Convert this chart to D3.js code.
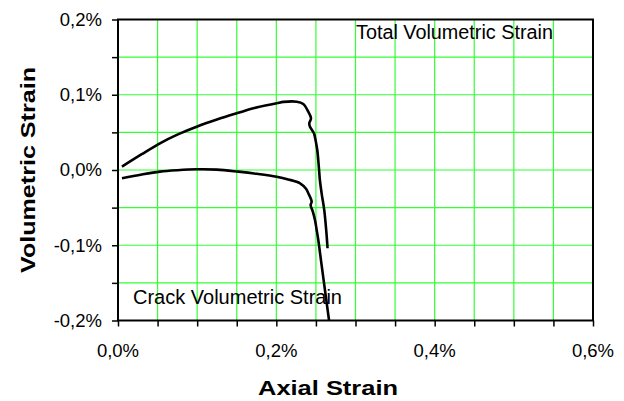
<!DOCTYPE html>
<html><head><meta charset="utf-8">
<script src="https://cdn.jsdelivr.net/npm/d3@7"></script>
<style>body{margin:0;background:#fff}svg{display:block}text{font-family:"Liberation Sans",Arial,sans-serif}</style>
</head><body>
<script>
// Axial strain (%) and volumetric strain (%)
const totalX = [0.005, 0.03, 0.053, 0.075, 0.0994, 0.125, 0.152, 0.1708, 0.2004, 0.209, 0.2257, 0.234, 0.2403, 0.2438, 0.2416, 0.2425, 0.2475, 0.2495, 0.2517, 0.254, 0.255, 0.2575, 0.2605, 0.263, 0.2647];
const totalY = [0.0045, 0.021, 0.0355, 0.047, 0.0575, 0.067, 0.076, 0.082, 0.0886, 0.0905, 0.0908, 0.0877, 0.0775, 0.0687, 0.062, 0.0576, 0.0487, 0.04, 0.0266, 0.0, -0.0133, -0.033, -0.053, -0.08, -0.104];
const crackX = [0.005, 0.03, 0.053, 0.075, 0.0994, 0.125, 0.152, 0.175, 0.2004, 0.215, 0.23, 0.2375, 0.2404, 0.2446, 0.2433, 0.246, 0.2488, 0.251, 0.253, 0.2564, 0.2602, 0.2634, 0.2666];
const crackY = [-0.011, -0.006, -0.0022, -0.0003, 0.0009, 0.0005, -0.0022, -0.005, -0.0089, -0.0125, -0.0177, -0.025, -0.031, -0.042, -0.0465, -0.055, -0.0664, -0.08, -0.093, -0.12, -0.15, -0.175, -0.2];
const xTicks = [0, 0.05, 0.1, 0.15, 0.2, 0.25, 0.3, 0.35, 0.4, 0.45, 0.5, 0.55, 0.6];
const yTicks = [-0.2, -0.15, -0.1, -0.05, 0, 0.05, 0.1, 0.15, 0.2];
const xLabels = ["0,0%", "0,2%", "0,4%", "0,6%"];
const xLabelVals = [0, 0.2, 0.4, 0.6];
const yLabels = ["-0,2%", "-0,1%", "0,0%", "0,1%", "0,2%"];
const yLabelVals = [-0.2, -0.1, 0, 0.1, 0.2];
const seriesNames = ["Total Volumetric Strain", "Crack Volumetric Strain"];

const W = 624, H = 401;
const L = 118, R = 593, T = 19.5, B = 320.5;
const svg = d3.select("body").append("svg").attr("width", W).attr("height", H);
const x = d3.scaleLinear().domain([0, 0.6]).range([L, R]);
const y = d3.scaleLinear().domain([-0.2, 0.2]).range([B, T]);

// grid
svg.append("g").selectAll("line.vx").data(xTicks.slice(1, -1)).join("line")
  .attr("x1", d => x(d)).attr("x2", d => x(d)).attr("y1", T).attr("y2", B)
  .attr("stroke", "#33ff33").attr("stroke-width", 1.2);
svg.append("g").selectAll("line.hy").data(yTicks.slice(1, -1)).join("line")
  .attr("y1", d => y(d)).attr("y2", d => y(d)).attr("x1", L).attr("x2", R)
  .attr("stroke", "#33ff33").attr("stroke-width", 1.2);

// axes ticks
const xAxis = d3.axisBottom(x).tickValues(xTicks).tickSize(6).tickFormat("");
const yAxis = d3.axisLeft(y).tickValues(yTicks).tickSize(6).tickFormat("");
const gx = svg.append("g").attr("transform", `translate(0,${B})`).call(xAxis);
const gy = svg.append("g").attr("transform", `translate(${L},0)`).call(yAxis);
[gx, gy].forEach(g => { g.select(".domain").remove(); g.selectAll("line").attr("stroke", "#000").attr("stroke-width", 1.5); });

// frame
svg.append("rect").attr("x", L).attr("y", T).attr("width", R - L).attr("height", B - T)
  .attr("fill", "none").attr("stroke", "#000").attr("stroke-width", 2);

// tick labels
svg.append("g").selectAll("text").data(xLabelVals).join("text")
  .attr("x", d => x(d)).attr("y", 357).attr("text-anchor", "middle")
  .attr("font-size", 18.5).text((d, i) => xLabels[i]);
svg.append("g").selectAll("text").data(yLabelVals).join("text")
  .attr("x", 102).attr("y", d => y(d)).attr("dy", "0.35em").attr("text-anchor", "end")
  .attr("font-size", 18.5).text((d, i) => yLabels[i]);

// curves
const line = d3.line().x(d => x(d[0])).y(d => y(d[1])).curve(d3.curveCatmullRom.alpha(0.5));
svg.append("path").datum(d3.zip(totalX, totalY)).attr("d", line)
  .attr("fill", "none").attr("stroke", "#000").attr("stroke-width", 2.6).attr("stroke-linejoin", "round");
svg.append("path").datum(d3.zip(crackX, crackY)).attr("d", line)
  .attr("fill", "none").attr("stroke", "#000").attr("stroke-width", 2.6).attr("stroke-linejoin", "round");

// annotations
svg.append("text").attr("x", 356).attr("y", 39.3).attr("font-size", 19.5)
  .attr("textLength", 197).attr("lengthAdjust", "spacingAndGlyphs").text(seriesNames[0]);
svg.append("text").attr("x", 133).attr("y", 303.5).attr("font-size", 19.5)
  .attr("textLength", 209).attr("lengthAdjust", "spacingAndGlyphs").text(seriesNames[1]);

// axis titles
svg.append("text").attr("x", 328).attr("y", 395).attr("text-anchor", "middle")
  .attr("font-size", 21).attr("font-weight", "bold")
  .attr("textLength", 140).attr("lengthAdjust", "spacingAndGlyphs").text("Axial Strain");
svg.append("text").attr("transform", "translate(35,170) rotate(-90)").attr("text-anchor", "middle")
  .attr("font-size", 21).attr("font-weight", "bold")
  .attr("textLength", 206).attr("lengthAdjust", "spacingAndGlyphs").text("Volumetric Strain");
</script>
</body></html>
